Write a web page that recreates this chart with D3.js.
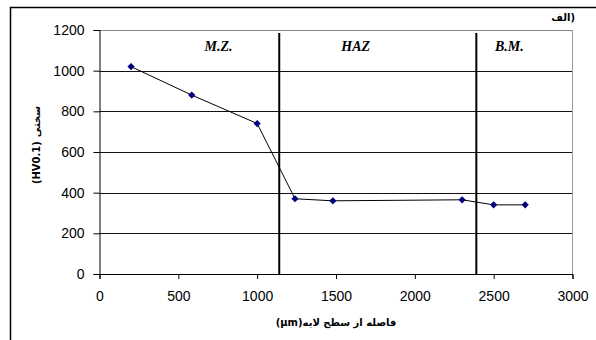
<!DOCTYPE html>
<html>
<head>
<meta charset="utf-8">
<script src="https://cdn.jsdelivr.net/npm/d3@7"></script>
<style>
  body { margin: 0; background: #fff; }
  svg { display: block; }
</style>
</head>
<body>
<svg id="chart" width="596" height="340"></svg>
<script>
// data
var distances = [200, 585, 1000, 1240, 1480, 2300, 2500, 2700];
var hardness = [1020, 880, 740, 370, 360, 365, 340, 340];
var xTicks = [0, 500, 1000, 1500, 2000, 2500, 3000];
var yTicks = [0, 200, 400, 600, 800, 1000, 1200];
var zoneBounds = [1140, 2390];
var zoneNames = ["M.Z.", "HAZ", "B.M."];
var zoneCenters = [755, 1625, 2600];

var svg = d3.select("#chart");

// frame around the whole chart (only left and top edges show)
svg.append("path")
    .attr("d", "M10.5,340 L10.5,7.5 L596,7.5")
    .attr("fill", "none")
    .attr("stroke", "#000")
    .attr("stroke-width", 1.5);

var x = d3.scaleLinear().domain([0, 3000]).range([99.5, 572.5]);
var y = d3.scaleLinear().domain([0, 1200]).range([274, 30]);

// horizontal gridlines
svg.append("g")
    .selectAll("line")
    .data(yTicks.slice(1))
    .enter()
    .append("line")
        .attr("x1", x(0))
        .attr("x2", x(3000))
        .attr("y1", function(d) { return Math.round(y(d)) + 0.5; })
        .attr("y2", function(d) { return Math.round(y(d)) + 0.5; })
        .attr("stroke", function(d) { return d == 1200 ? "#888" : "#111"; })
        .attr("stroke-width", 1);

// right edge of plot area
svg.append("line")
    .attr("x1", x(3000)).attr("x2", x(3000))
    .attr("y1", y(1200)).attr("y2", y(0))
    .attr("stroke", "#999");

// zone separators
svg.append("g")
    .selectAll("line")
    .data(zoneBounds)
    .enter()
    .append("line")
        .attr("x1", function(d) { return x(d); })
        .attr("x2", function(d) { return x(d); })
        .attr("y1", y(1200) + 3)
        .attr("y2", y(0))
        .attr("stroke", "#000")
        .attr("stroke-width", 2);

// axes
var yAxis = svg.append("g")
    .attr("transform", "translate(" + x(0) + ",0)")
    .call(d3.axisLeft(y).tickValues(yTicks).tickFormat(d3.format("d")).tickSize(6).tickPadding(9));
var xAxis = svg.append("g")
    .attr("transform", "translate(0," + y(0) + ")")
    .call(d3.axisBottom(x).tickValues(xTicks).tickFormat(d3.format("d")).tickSize(5).tickPadding(12));

[xAxis, yAxis].forEach(function(a) {
    a.selectAll("text")
        .style("font-family", "Liberation Sans, Arial, sans-serif")
        .style("font-size", "14px")
        .attr("fill", "#000");
    a.selectAll("line").attr("stroke", "#000");
    a.select(".domain").attr("stroke", "#000");
});

// data line and markers
var line = d3.line()
    .x(function(d, i) { return x(distances[i]); })
    .y(function(d) { return y(d); });

svg.append("path")
    .datum(hardness)
    .attr("d", line)
    .attr("fill", "none")
    .attr("stroke", "#000")
    .attr("stroke-width", 1);

svg.append("g")
    .selectAll("path")
    .data(hardness)
    .enter()
    .append("path")
        .attr("d", d3.symbol().type(d3.symbolSquare).size(26))
        .attr("transform", function(d, i) { return "translate(" + x(distances[i]) + "," + y(d) + ") rotate(45)"; })
        .attr("fill", "#000080");

// zone names
svg.append("g")
    .selectAll("text")
    .data(zoneNames)
    .enter()
    .append("text")
        .attr("x", function(d, i) { return x(zoneCenters[i]); })
        .attr("y", 51)
        .style("text-anchor", "middle")
        .style("font-family", "Liberation Serif, Times New Roman, serif")
        .style("font-weight", "bold")
        .style("font-style", "italic")
        .style("font-size", "14px")
        .text(function(d) { return d; });

// mixed Persian / Latin labels: lay the pieces out left to right myself,
// so the browser's bidi handling can't shuffle the brackets
function mixedLabel(pieces, transform, anchor, gap) {
    var g = svg.append("g").attr("transform", transform);
    var widths = [];
    pieces.forEach(function(p) {
        var t = g.append("text")
            .attr("y", 0)
            .attr("direction", "ltr")
            .style("text-anchor", "start")
            .style("font-family", "DejaVu Sans, sans-serif")
            .style("font-weight", "bold")
            .style("font-size", "10px")
            .text(p);
        widths.push(t.node().getComputedTextLength());
    });
    var total = d3.sum(widths) + gap * (pieces.length - 1);
    var start = anchor == "end" ? -total : (anchor == "middle" ? -total / 2 : 0);
    g.selectAll("text").attr("x", function(d, i) { return start + d3.sum(widths.slice(0, i)) + gap * i; });
}

// panel tag
mixedLabel(["الف", ")"], "translate(575,21)", "end", 0);
// x axis title
mixedLabel(["(µm)", "فاصله از سطح لایه"], "translate(336,326)", "middle", 0);
// y axis title
mixedLabel(["(HV0.1)", "سختی"], "translate(40,145) rotate(-90)", "middle", 4);
</script>
</body>
</html>
